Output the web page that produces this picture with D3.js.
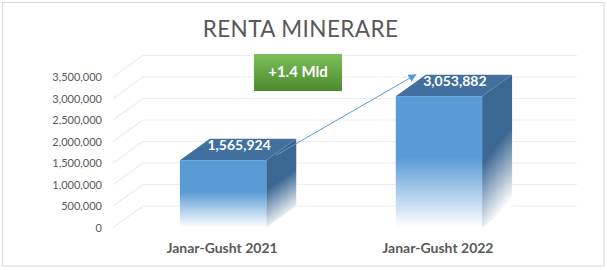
<!DOCTYPE html>
<html>
<head>
<meta charset="utf-8">
<script src="https://cdn.jsdelivr.net/npm/d3@7"></script>
<style>
  body { margin: 0; background: #fff; }
  svg { display: block; font-family: Lato, "Liberation Sans", sans-serif; }
</style>
</head>
<body>
<div id="chart"></div>
<script>

// data
var categories = ["Janar-Gusht 2021", "Janar-Gusht 2022"];
var values = [1565924, 3053882];
var valueLabels = ["1,565,924", "3,053,882"];
var yTicks = [0, 500000, 1000000, 1500000, 2000000, 2500000, 3000000, 3500000];
var title = "RENTA MINERARE";
var badgeText = "+1.4 Mld";

var width = 607, height = 270;
var depthX = 30, depthY = -21.5;

var svg = d3.select("#chart")
            .append("svg")
            .attr("width", width)
            .attr("height", height);

var defs = svg.append("defs");

var frontGrad = defs.append("linearGradient")
                    .attr("id", "frontGrad")
                    .attr("x1", 0).attr("y1", 0)
                    .attr("x2", 0).attr("y2", 1);
frontGrad.append("stop").attr("offset", 0).attr("stop-color", "#5B9BD5");
frontGrad.append("stop").attr("offset", 0.47).attr("stop-color", "#5B9BD5");
frontGrad.append("stop").attr("offset", 1).attr("stop-color", "#ffffff");

var sideGrad = defs.append("linearGradient")
                   .attr("id", "sideGrad")
                   .attr("x1", 0).attr("y1", 0)
                   .attr("x2", 0.25).attr("y2", 1);
sideGrad.append("stop").attr("offset", 0).attr("stop-color", "#3B6793");
sideGrad.append("stop").attr("offset", 0.55).attr("stop-color", "#3B6793");
sideGrad.append("stop").attr("offset", 1).attr("stop-color", "#ffffff");

var greenGrad = defs.append("linearGradient")
                    .attr("id", "greenGrad")
                    .attr("x1", 0).attr("y1", 0)
                    .attr("x2", 0).attr("y2", 1);
greenGrad.append("stop").attr("offset", 0).attr("stop-color", "#7DBF5A");
greenGrad.append("stop").attr("offset", 1).attr("stop-color", "#4A8A2C");

defs.append("marker")
    .attr("id", "arrowHead")
    .attr("viewBox", "0 0 10 10")
    .attr("refX", 9).attr("refY", 5)
    .attr("markerWidth", 8).attr("markerHeight", 8)
    .attr("markerUnits", "userSpaceOnUse")
    .attr("orient", "auto")
    .append("path")
    .attr("d", "M0,0 L10,5 L0,10 z")
    .style("fill", "#5B9BD5");

// outer frame
svg.append("rect")
   .attr("x", 2.5).attr("y", 2.5)
   .attr("width", 601.5).attr("height", 263.5)
   .style("fill", "#fff")
   .style("stroke", "#D9D9D9");

// title
svg.append("text")
   .attr("x", 300.5)
   .attr("y", 36.5)
   .attr("text-anchor", "middle")
   .attr("font-size", "22.5px")
   .attr("letter-spacing", "0.4px")
   .text(title)
   .style("fill", "#595959");

var x = d3.scaleBand()
          .domain(categories)
          .range([113, 549])
          .paddingInner(0.6)
          .paddingOuter(0.31);

var y = d3.scaleLinear()
          .domain([0, 3500000])
          .range([227.5, 77]);

var fmt = d3.format(",");

// back wall gridlines and left wall diagonals
var grid = svg.append("g");

grid.selectAll("line.back")
    .data(yTicks)
    .enter()
    .append("line")
    .attr("class", "back")
    .attr("x1", x.range()[0] + depthX)
    .attr("x2", x.range()[1] + depthX - 2)
    .attr("y1", function(d){ return y(d) + depthY; })
    .attr("y2", function(d){ return y(d) + depthY; })
    .style("stroke", "#EDEDED")
    .style("stroke-width", 1.2);

grid.selectAll("line.side")
    .data(yTicks)
    .enter()
    .append("line")
    .attr("class", "side")
    .attr("x1", x.range()[0])
    .attr("x2", x.range()[0] + depthX)
    .attr("y1", function(d){ return y(d); })
    .attr("y2", function(d){ return y(d) + depthY; })
    .style("stroke", "#EDEDED")
    .style("stroke-width", 1.2);

// y tick labels
svg.append("g")
   .selectAll("text")
   .data(yTicks)
   .enter()
   .append("text")
   .attr("x", 102)
   .attr("y", function(d){ return y(d) + 4; })
   .attr("text-anchor", "end")
   .attr("font-size", "11px")
   .text(function(d){ return fmt(d); })
   .style("fill", "#595959");

// 3d bars
var bars = svg.append("g")
              .selectAll("g")
              .data(values)
              .enter()
              .append("g");

var bw = x.bandwidth();

bars.append("path")
    .attr("d", function(d,i){
      var x0 = x(categories[i]) + bw, y0 = y(d), yb = y(0);
      return "M" + x0 + "," + y0 +
             " L" + (x0 + depthX) + "," + (y0 + depthY) +
             " L" + (x0 + depthX) + "," + (yb + depthY) +
             " L" + x0 + "," + yb + " Z";
    })
    .style("fill", "url(#sideGrad)");

bars.append("path")
    .attr("d", function(d,i){
      var x0 = x(categories[i]), y0 = y(d);
      return "M" + x0 + "," + y0 +
             " L" + (x0 + depthX) + "," + (y0 + depthY) +
             " L" + (x0 + bw + depthX) + "," + (y0 + depthY) +
             " L" + (x0 + bw) + "," + y0 + " Z";
    })
    .style("fill", "#41709E");

bars.append("rect")
    .attr("x", function(d,i){ return x(categories[i]); })
    .attr("y", function(d){ return y(d); })
    .attr("width", bw)
    .attr("height", function(d){ return y(0) - y(d); })
    .style("fill", "url(#frontGrad)");

bars.append("text")
    .attr("x", function(d,i){ return x(categories[i]) + bw/2 + 16; })
    .attr("y", function(d){ return y(d) - 10.5; })
    .attr("text-anchor", "middle")
    .attr("font-size", "14px")
    .attr("font-weight", "bold")
    .text(function(d,i){ return valueLabels[i]; })
    .style("fill", "#fff");

// category labels
svg.append("g")
   .selectAll("text")
   .data(categories)
   .enter()
   .append("text")
   .attr("x", function(d){ return x(d) + bw/2 - 1; })
   .attr("y", 253)
   .attr("text-anchor", "middle")
   .attr("font-size", "14px")
   .attr("font-weight", "bold")
   .text(function(d){ return d; })
   .style("fill", "#595959");

// growth arrow
svg.append("line")
   .attr("x1", x(categories[0]) + bw + 10)
   .attr("y1", y(values[0]) - 5)
   .attr("x2", x(categories[1]) + 20)
   .attr("y2", y(values[1]) + depthY)
   .style("stroke", "#5B9BD5")
   .style("stroke-width", 1)
   .attr("marker-end", "url(#arrowHead)");

// badge
var badge = svg.append("g");
badge.append("rect")
     .attr("x", 254).attr("y", 54)
     .attr("width", 88).attr("height", 37)
     .style("fill", "url(#greenGrad)");
badge.append("text")
     .attr("x", 298).attr("y", 77)
     .attr("text-anchor", "middle")
     .attr("font-size", "15px")
     .attr("font-weight", "bold")
     .text(badgeText)
     .style("fill", "#fff");

</script>
</body>
</html>
